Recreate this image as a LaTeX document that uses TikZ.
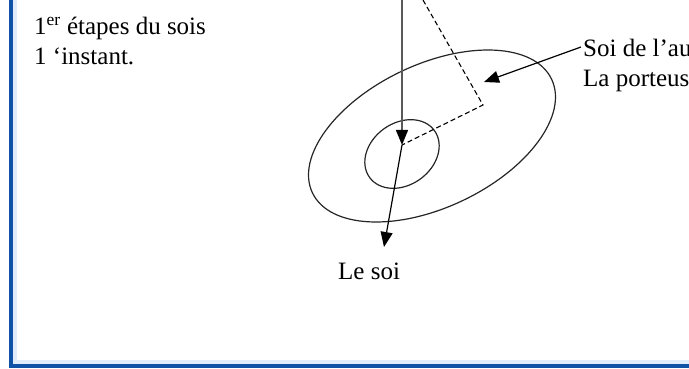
\documentclass[tikz,border=0pt]{standalone}
\usepackage{fontspec}
\setmainfont{Liberation Serif}
\usetikzlibrary{arrows.meta}
\definecolor{frameblue}{RGB}{16,82,166}
\definecolor{framelight}{RGB}{225,236,250}
\begin{document}
\begin{tikzpicture}[x=1pt,y=-1pt,
  lbl/.style={anchor=base west, inner sep=0pt, font=\fontsize{25}{30}\selectfont},
  shapeline/.style={line width=1.2pt, black!85},
  arr/.style={line width=1.2pt, -{Triangle[length=15pt,width=12pt,color=black]}},
  dashline/.style={line width=1.1pt, dash pattern=on 5pt off 3pt}]
\clip (0,0) rectangle (689,369);
\fill[white] (0,0) rectangle (689,369);
% frame
\fill[framelight] (13.2,0) rectangle (17,363.5);
\fill[framelight] (13.2,359.5) rectangle (689,363.5);
\fill[frameblue] (8.8,0) rectangle (13.2,368);
\fill[frameblue] (8.8,363.5) rectangle (689,368);
% texts
\node[lbl] (t1) at (34,35) {1\textsuperscript{er} étapes du sois};
\node[lbl] (t2) at (34,65) {1 ‘instant.};
\node[lbl] (soi) at (583,57) {Soi de l’au};
\node[lbl] (port) at (583,87) {La porteus};
\node[lbl] (lesoi) at (338,279) {Le soi};
% points
\coordinate (top) at (402,0);
\coordinate (hub) at (402,145);
\coordinate (low) at (384,247);
\coordinate (dtop) at (423,0);
\coordinate (corner) at (483,105);
\coordinate (soistart) at (581,47);
\coordinate (soitip) at (484,82);
% ellipses
\draw[shapeline, rotate around={25.4:(432,136)}] (432,136) ellipse [x radius=132.4pt, y radius=71.5pt];
\draw[shapeline, rotate around={35.7:(402,154)}] (402,154) ellipse [x radius=40pt, y radius=31pt];
% connectors
\draw[dashline] (dtop) -- (corner) -- (hub);
\draw[arr, black!65, line width=1.4pt] (top) -- (hub);
\draw[arr] (hub) -- (low);
\draw[arr] (soistart) -- (soitip);
\end{tikzpicture}
\end{document}
